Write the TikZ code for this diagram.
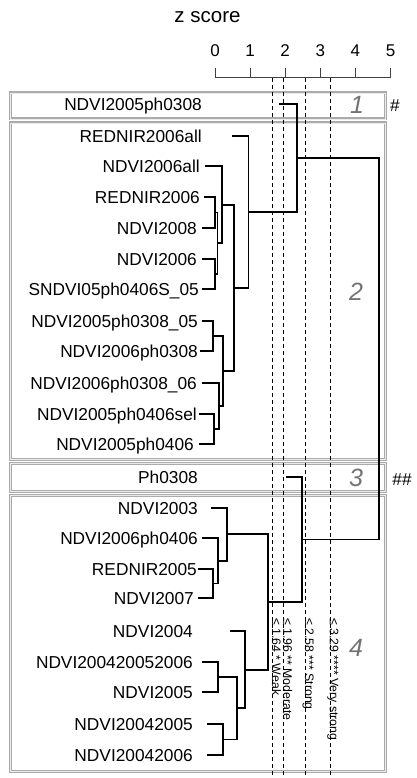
\documentclass[tikz,border=0pt]{standalone}
\usepackage{fontspec}
\setmainfont{Liberation Sans}
\usetikzlibrary{calc}

% join two members (upper #3, lower #4) at height #2, new point #1
\newcommand{\joinpair}[4]{%
  \path let \p1=(#3), \p2=(#4) in coordinate (#1) at (#2,{0.5*\y1+0.5*\y2});
  \draw[branch] (#3) -| (#1) |- (#4);
}

\begin{document}
\begin{tikzpicture}[
    x=1pt, y=-1pt,
    leaf/.style={
        anchor=east, inner sep=0pt, text height=12.4pt, text depth=0pt,
        font=\fontsize{17.3}{20}\selectfont
    },
    branch/.style={
        line width=1.8pt, black
    },
    clusterbox/.style={
        draw=black!33, double=black!8, double distance=0.8pt, line width=1.1pt
    },
    clusternum/.style={
        anchor=base, inner sep=0pt, text=black!55,
        font=\fontsize{25}{28}\selectfont\itshape
    },
    hashmark/.style={
        anchor=base, inner sep=0pt, font=\fontsize{17.3}{20}\selectfont
    },
    title/.style={
        anchor=base, inner sep=0pt, font=\fontsize{20.5}{24}\selectfont
    },
    ticklab/.style={
        anchor=base, inner sep=0pt, font=\fontsize{17}{20}\selectfont
    },
    axis/.style={
        line width=1pt, black!75
    },
    sigline/.style={
        dash pattern=on 4pt off 3pt, line width=0.8pt, black
    },
    siglabel/.style={
        rotate=-90, anchor=base west, inner sep=0pt,
        font=\fontsize{12.3}{14}\selectfont
    }
]
\useasboundingbox (0,0) rectangle (417,778);

% ── Cluster boxes ──
\draw[clusterbox] (10,93) rectangle (385,119);
\draw[clusterbox] (10,123) rectangle (385,459);
\draw[clusterbox] (10,463) rectangle (385,491);
\draw[clusterbox] (10,495) rectangle (385,771);

\node[clusternum] (num1) at (357,114) {1};
\node[clusternum] (num2) at (356,300) {2};
\node[clusternum] (num3) at (356,486) {3};
\node[clusternum] (num4) at (356,656) {4};

\node[hashmark] (hash1) at (395,112) {\#};
\node[hashmark] (hash3) at (402,485) {\#\#};

% ── z score axis ──
\node[title] (zscore) at (207.5,23) {z score};
\draw[axis] (215,78) -- (390.5,78);
\foreach \v in {0,...,5} {
    \draw[axis] ({215+35.1*\v},78) -- ++(0,-10);
    \node[ticklab] (tick\v) at ({215+35.1*\v},57) {\v};
}

% ── Significance thresholds ──
\foreach \z/\txt [count=\i] in {1.64/{≤ 1.64 * Weak}, 1.96/{≤ 1.96 ** Moderate},
                                2.58/{≤ 2.58 *** Strong}, 3.29/{≤ 3.29 **** Very strong}} {
    \draw[sigline] ({215+35.1*\z},78) -- ({215+35.1*\z},778);
    \node[siglabel] (sig\i) at ({214.5+35.1*\z},618) {\txt};
}

% ── Cluster 1 ──
\node[leaf] (a1) at (202,104) {NDVI2005ph0308};   \coordinate (a1e) at (279,104);

% ── Cluster 2 ──
\node[leaf] (b1) at (202,136) {REDNIR2006all};      \coordinate (b1e) at (232,136);
\node[leaf] (b2) at (200,166) {NDVI2006all};        \coordinate (b2e) at (205,166);
\node[leaf] (b3) at (200,197) {REDNIR2006};         \coordinate (b3e) at (204,197);
\node[leaf] (b4) at (197,228) {NDVI2008};           \coordinate (b4e) at (202,228);
\node[leaf] (b5) at (197,259) {NDVI2006};           \coordinate (b5e) at (202,259);
\node[leaf] (b6) at (199,289) {SNDVI05ph0406S\_05}; \coordinate (b6e) at (202,289);
\node[leaf] (b7) at (198,321) {NDVI2005ph0308\_05}; \coordinate (b7e) at (202,321);
\node[leaf] (b8) at (198,351) {NDVI2006ph0308};     \coordinate (b8e) at (200,351);
\node[leaf] (b9) at (197,383) {NDVI2006ph0308\_06}; \coordinate (b9e) at (202,383);
\node[leaf] (b10) at (197,414) {NDVI2005ph0406sel}; \coordinate (b10e) at (199,414);
\node[leaf] (b11) at (194,444) {NDVI2005ph0406};    \coordinate (b11e) at (199,444);

% ── Cluster 3 ──
\node[leaf] (c1) at (198,477) {Ph0308};             \coordinate (c1e) at (286,477);

% ── Cluster 4 ──
\node[leaf] (d1) at (198,508) {NDVI2003};           \coordinate (d1e) at (211,508);
\node[leaf] (d2) at (198,538) {NDVI2006ph0406};     \coordinate (d2e) at (202,538);
\node[leaf] (d3) at (197,569) {REDNIR2005};         \coordinate (d3e) at (198,569);
\node[leaf] (d4) at (194,598) {NDVI2007};           \coordinate (d4e) at (198,598);
\node[leaf] (d5) at (193,631) {NDVI2004};           \coordinate (d5e) at (230,631);
\node[leaf] (d6) at (193,662) {NDVI200420052006};   \coordinate (d6e) at (202,662);
\node[leaf] (d7) at (193,692) {NDVI2005};           \coordinate (d7e) at (202,692);
\node[leaf] (d8) at (193,724) {NDVI20042005};       \coordinate (d8e) at (207,724);
\node[leaf] (d9) at (193,755) {NDVI20042006};       \coordinate (d9e) at (207,755);

% ── Merges ──
\joinpair{k1}{215}{b3e}{b4e}
\joinpair{k2}{215}{b5e}{b6e}
\joinpair{k3}{217.5}{k1}{k2}
\joinpair{k4}{222}{b2e}{k3}
\joinpair{k5}{213}{b7e}{b8e}
\joinpair{k6}{214}{b10e}{b11e}
\joinpair{k7}{219}{b9e}{k6}
\joinpair{k8}{223}{k5}{k7}
\joinpair{k9}{234}{k4}{k8}
\joinpair{k10}{248.5}{b1e}{k9}
\joinpair{r1}{297}{a1e}{k10}

\joinpair{m1}{213}{d3e}{d4e}
\joinpair{m2}{218}{d2e}{m1}
\joinpair{m3}{227}{d1e}{m2}
\joinpair{m4}{218}{d6e}{d7e}
\joinpair{m5}{223}{d8e}{d9e}
\joinpair{m6}{237}{m4}{m5}
\joinpair{m7}{245}{d5e}{m6}
\joinpair{m8}{268}{m3}{m7}
\joinpair{r2}{302}{c1e}{m8}

\joinpair{root}{379}{r1}{r2}

\end{tikzpicture}
\end{document}
